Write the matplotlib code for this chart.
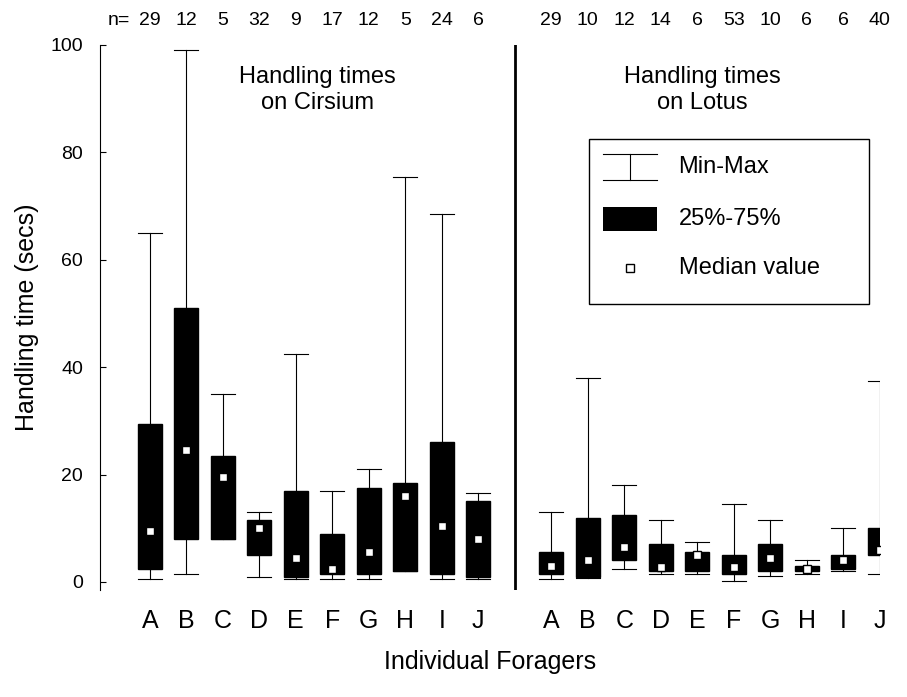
import matplotlib
matplotlib.use("Agg")
import matplotlib.pyplot as plt
from matplotlib.patches import Rectangle
from matplotlib.lines import Line2D

foragers = ["A", "B", "C", "D", "E", "F", "G", "H", "I", "J"]

cirsium_n = [29, 12, 5, 32, 9, 17, 12, 5, 24, 6]
cirsium_min = [0.5, 1.5, 8, 1, 0.5, 0.5, 0.5, 2, 0.5, 0.5]
cirsium_q1 = [2.5, 8, 8, 5, 1, 1.5, 1.5, 2, 1.5, 1]
cirsium_med = [9.5, 24.5, 19.5, 10, 4.5, 2.5, 5.5, 16, 10.5, 8]
cirsium_q3 = [29.5, 51, 23.5, 11.5, 17, 9, 17.5, 18.5, 26, 15]
cirsium_max = [65, 99, 35, 13, 42.5, 17, 21, 75.5, 68.5, 16.5]

lotus_n = [29, 10, 12, 14, 6, 53, 10, 6, 6, 40]
lotus_min = [0.5, 0.8, 2.5, 1.5, 1.5, 0.2, 1.2, 1.5, 2, 1.5]
lotus_q1 = [1.5, 1, 4, 2, 2, 1.5, 2, 2, 2.5, 5]
lotus_med = [3, 4, 6.5, 2.8, 5, 2.8, 4.5, 2.5, 4, 6]
lotus_q3 = [5.5, 12, 12.5, 7, 5.5, 5, 7, 3, 5, 10]
lotus_max = [13, 38, 18, 11.5, 7.5, 14.5, 11.5, 4, 10, 37.5]

FONT = "Liberation Sans"
plt.rcParams["font.family"] = [FONT, "DejaVu Sans"]

fig = plt.figure(figsize=(9.07, 6.97), dpi=100)
ax = fig.add_axes([0.110, 0.1535, 0.860, 0.782])
ax.set_xlim(-1.37, 20.0)
ax.set_ylim(-1.5, 100)

WIDTH = 0.65


def draw_group(start, n, lo, q1, med, q3, hi):
    for i in range(len(n)):
        x = start + i
        ax.plot([x, x], [lo[i], hi[i]], color="black", lw=0.8, zorder=1)
        for y in (lo[i], hi[i]):
            ax.plot([x - WIDTH / 2, x + WIDTH / 2], [y, y], color="black", lw=0.8, zorder=1)
        ax.add_patch(Rectangle((x - WIDTH / 2, q1[i]), WIDTH, q3[i] - q1[i],
                               facecolor="black", edgecolor="black", zorder=2))
        ax.plot(x, med[i], "s", ms=6, mfc="white", mec="black", mew=1, zorder=3)
        ax.text(x, 103, str(n[i]), ha="center", va="bottom", fontsize=14, clip_on=False)


draw_group(0, cirsium_n, cirsium_min, cirsium_q1, cirsium_med, cirsium_q3, cirsium_max)
draw_group(11, lotus_n, lotus_min, lotus_q1, lotus_med, lotus_q3, lotus_max)
ax.text(-0.85, 103, "n=", ha="center", va="bottom", fontsize=14, clip_on=False)

ax.axvline(10.0, color="black", lw=2)

ax.text(4.6, 96, "Handling times\non Cirsium", ha="center", va="top", fontsize=17, linespacing=1.2)
ax.text(15.15, 96, "Handling times\non Lotus", ha="center", va="top", fontsize=17, linespacing=1.2)

ax.set_xticks(list(range(10)) + [11 + i for i in range(10)])
ax.set_xticklabels(foragers + foragers, fontsize=18)
ax.tick_params(axis="x", length=0, pad=14)
ax.set_yticks([0, 20, 40, 60, 80, 100])
ax.tick_params(axis="y", labelsize=14, direction="in", length=4, pad=12)
for s in ("top", "right", "bottom"):
    ax.spines[s].set_visible(False)
ax.set_ylabel("Handling time (secs)", fontsize=18, labelpad=8)
ax.set_xlabel("Individual Foragers", fontsize=18, labelpad=12)

# legend box drawn by hand
lg = Rectangle((0.627, 0.525), 0.359, 0.303, transform=ax.transAxes,
               facecolor="white", edgecolor="black", lw=1.0, zorder=4)
ax.add_patch(lg)
kw = dict(transform=ax.transAxes, zorder=5)
ax.add_line(Line2D([0.645, 0.715], [0.800, 0.800], color="black", lw=0.8, **kw))
ax.add_line(Line2D([0.645, 0.715], [0.752, 0.752], color="black", lw=0.8, **kw))
ax.add_line(Line2D([0.680, 0.680], [0.752, 0.800], color="black", lw=0.8, **kw))
ax.add_patch(Rectangle((0.645, 0.658), 0.07, 0.045, facecolor="black", **kw))
ax.add_line(Line2D([0.680], [0.590], marker="s", ms=6, mfc="white", mec="black", mew=1, **kw))
ax.text(0.742, 0.776, "Min-Max", fontsize=17, va="center", **kw)
ax.text(0.742, 0.680, "25%-75%", fontsize=17, va="center", **kw)
ax.text(0.742, 0.590, "Median value", fontsize=17, va="center", **kw)

fig.savefig("out.png", dpi=100)
